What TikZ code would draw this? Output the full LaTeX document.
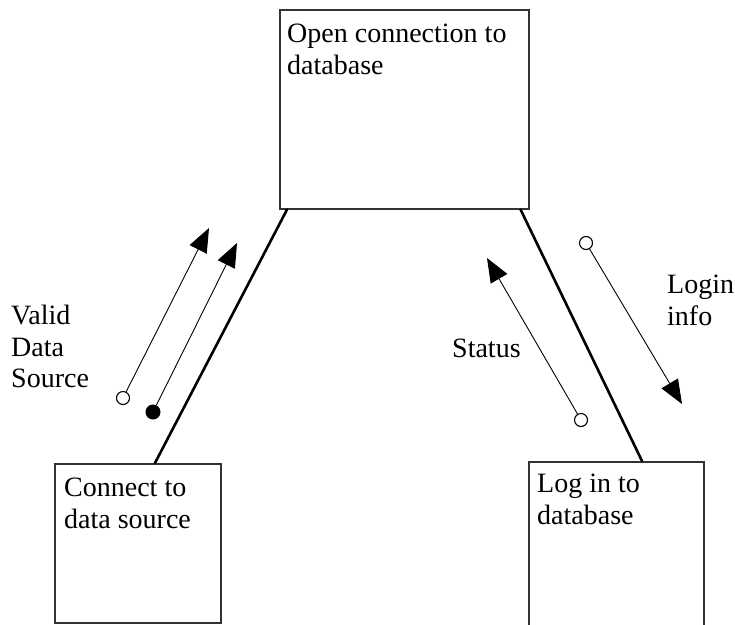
\documentclass[tikz,border=0pt]{standalone}
\usepackage{fontspec}
\setmainfont{Liberation Serif}
\usetikzlibrary{arrows.meta}
\tikzset{
  box/.style={draw=black!80, line width=1.6pt, fill=none, inner sep=0pt, anchor=north west},
  txt/.style={anchor=north west, inner sep=0pt, align=left, font=\fontsize{28}{31.5}\selectfont},
  link/.style={line width=2.6pt, line cap=round},
  flow/.style={line width=0.9pt, -{Triangle[length=24pt,width=19pt]}},
  dotopen/.style={circle, draw, line width=1.1pt, fill=white, minimum size=13pt, inner sep=0pt},
  dotfull/.style={circle, fill=black, minimum size=15pt, inner sep=0pt}
}
\begin{document}
\begin{tikzpicture}[x=1pt,y=-1pt]
\useasboundingbox (0,0) rectangle (735,624);
% boxes
\node [box, minimum width=249pt, minimum height=199pt] (open) at (279,9) {};
\node [box, minimum width=166pt, minimum height=159pt] (connect) at (54,463) {};
\node [box, minimum width=175pt, minimum height=200pt] (login) at (528,461) {};
\node [txt] (opentxt) at (287,24) {Open connection to\\database};
\node [txt] (connecttxt) at (64,478) {Connect to\\data source};
\node [txt] (logintxt) at (537,474) {Log in to\\database};
% links between boxes
\draw [link] ([xshift=8pt]open.south west) -- ([xshift=101pt]connect.north west);
\draw [link] ([xshift=-9pt]open.south east) -- ([xshift=114pt]login.north west);
% data flows
\coordinate (T1) at (209,228);
\coordinate (T2) at (237,243);
\coordinate (T3) at (487,258);
\coordinate (T4) at (682,404);
\node [dotopen] (C1) at (123,398) {};
\node [dotfull] (C2) at (153,412) {};
\node [dotopen] (C3) at (581,420) {};
\node [dotopen] (C4) at (586,243) {};
\draw [flow] (C1) -- (T1);
\draw [flow] (C2) -- (T2);
\draw [flow] (C3) -- (T3);
\draw [flow] (C4) -- (T4);
% labels
\node [txt] (valid) at (11,305) {Valid\\Data\\Source};
\node [txt] (status) at (452,339) {Status};
\node [txt] (logininfo) at (667,275) {Login\\info};
\end{tikzpicture}
\end{document}
